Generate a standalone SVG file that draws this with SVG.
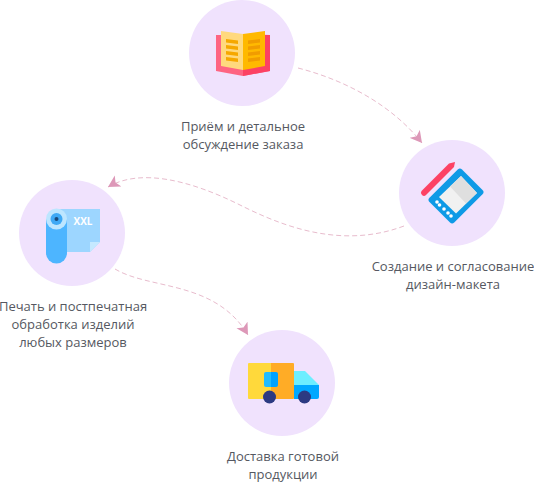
<svg xmlns="http://www.w3.org/2000/svg" width="534" height="482" viewBox="0 0 534 482">
<style>
.bg{fill:#f0e2fd}
text{font-family:"Open Sans","Noto Sans",sans-serif;font-size:13px;fill:#555861;text-anchor:middle}
.c{fill:none;stroke:#e8bccd;stroke-width:1;stroke-dasharray:5 3;marker-end:url(#a)}
</style>
<defs>
<marker id="a" markerUnits="userSpaceOnUse" markerWidth="14" markerHeight="14" refX="10" refY="6" orient="auto" viewBox="0 0 12 12">
<path d="M0 0.500L10 6L0 11.500L2.500 6Z" fill="#dd98b8"/>
</marker>
</defs>
<g id="connectors">
<path class="c" d="M298 68C345 80 392 105 422 143"/>
<path class="c" d="M404 226C340 250 280 225 240 205C190 180 140 168 108 187"/>
<path class="c" d="M115 269C150 290 215 280 248 335"/>
</g>
<g id="node-order">
<circle class="bg" cx="242" cy="53" r="53"/>
<path d="M216 35H270V71L243 76L216 71Z" fill="#fe6582"/>
<path d="M243 34V76L270 71V35Z" fill="#fc4263"/>
<path d="M221 31L243 34V70L221 66Z" fill="#ffd97e"/>
<path d="M243 34L265 31V66L243 70Z" fill="#ffb900"/>
<g fill="#f6a800"><path d="M226 39L238 40.500V44L226 42.500Z"/><path d="M226 45L238 46.500V50L226 48.500Z"/><path d="M226 51L238 52.500V56L226 54.500Z"/><path d="M226 57L238 58.500V62L226 60.500Z"/></g>
<g fill="#f19c00"><path d="M248 40.500L260 39V42.500L248 44Z"/><path d="M248 46.500L260 45V48.500L248 50Z"/><path d="M248 52.500L260 51V54.500L248 56Z"/><path d="M248 58.500L260 57V60.500L248 62Z"/></g>
<text x="243" y="131">Приём и детальное</text>
<text x="243" y="149">обсуждение заказа</text>
</g>
<g id="node-design">
<circle class="bg" cx="452" cy="193" r="53"/>
<path d="M421.500 191L449 163.500L455 162L454 167L426 195Q424 197 422 195Q420 193 421.500 191Z" fill="#fd4264"/>
<rect x="-23" y="-17.500" width="46" height="35" rx="3" transform="translate(456 196) rotate(-45)" fill="#0e9ae6"/>
<path d="M439 197L461 176L477 193L456 213.500Z" fill="#f1f1f1"/>
<path d="M450 186.500L461 176L477 193L466 203.500Z" fill="#dfdfdf"/>
<g fill="#fff"><circle cx="437" cy="202" r="1.800"/><circle cx="439.500" cy="205" r="1.800"/><circle cx="444" cy="209" r="1.800"/><circle cx="448" cy="213" r="1.800"/><circle cx="451" cy="216" r="1.800"/></g>
<text x="453" y="271">Создание и согласование</text>
<text x="453" y="289">дизайн-макета</text>
</g>
<g id="node-print">
<circle class="bg" cx="72" cy="233" r="53"/>
<path d="M57 209H100V242L90 252H57Z" fill="#9dd6ff"/>
<path d="M90 252V242H100Z" fill="#c5e9ff"/>
<path d="M46 219H67V253A10.500 10.500 0 0 1 46 253Z" fill="#4db5ff"/>
<circle cx="56.500" cy="219" r="10.500" fill="#bde6ff"/>
<circle cx="56.500" cy="219" r="6" fill="#3fa9f5"/>
<circle cx="56.500" cy="219" r="2" fill="#1b4a7a"/>
<text x="83" y="225" style="font-size:10px;font-weight:700;fill:#fff">XXL</text>
<text x="73" y="311">Печать и постпечатная</text>
<text x="73" y="329">обработка изделий</text>
<text x="73" y="347">любых размеров</text>
</g>
<g id="node-delivery">
<circle class="bg" cx="282" cy="383" r="53"/>
<path d="M294 371H305L319 385V386H294Z" fill="#6deeff"/>
<path d="M294 385H319V397Q319 399 317 399H294Z" fill="#00a8ff"/>
<path d="M248 363.500Q248 363 249 363H271V399H249Q248 399 248 398Z" fill="#ffd93b"/>
<path d="M271 363H293Q294 363 294 364V398Q294 399 293 399H271Z" fill="#ffac26"/>
<path d="M266 372H271V387H266Q264 387 264 385V374Q264 372 266 372Z" fill="#1fbcff"/>
<path d="M271 372H276Q278 372 278 374V385Q278 387 276 387H271Z" fill="#00a2ff"/>
<circle cx="269.500" cy="397" r="6.500" fill="#2c3a82"/>
<circle cx="304.500" cy="397" r="6.500" fill="#2c3a82"/>
<text x="283" y="461">Доставка готовой</text>
<text x="283" y="479">продукции</text>
</g>
</svg>
